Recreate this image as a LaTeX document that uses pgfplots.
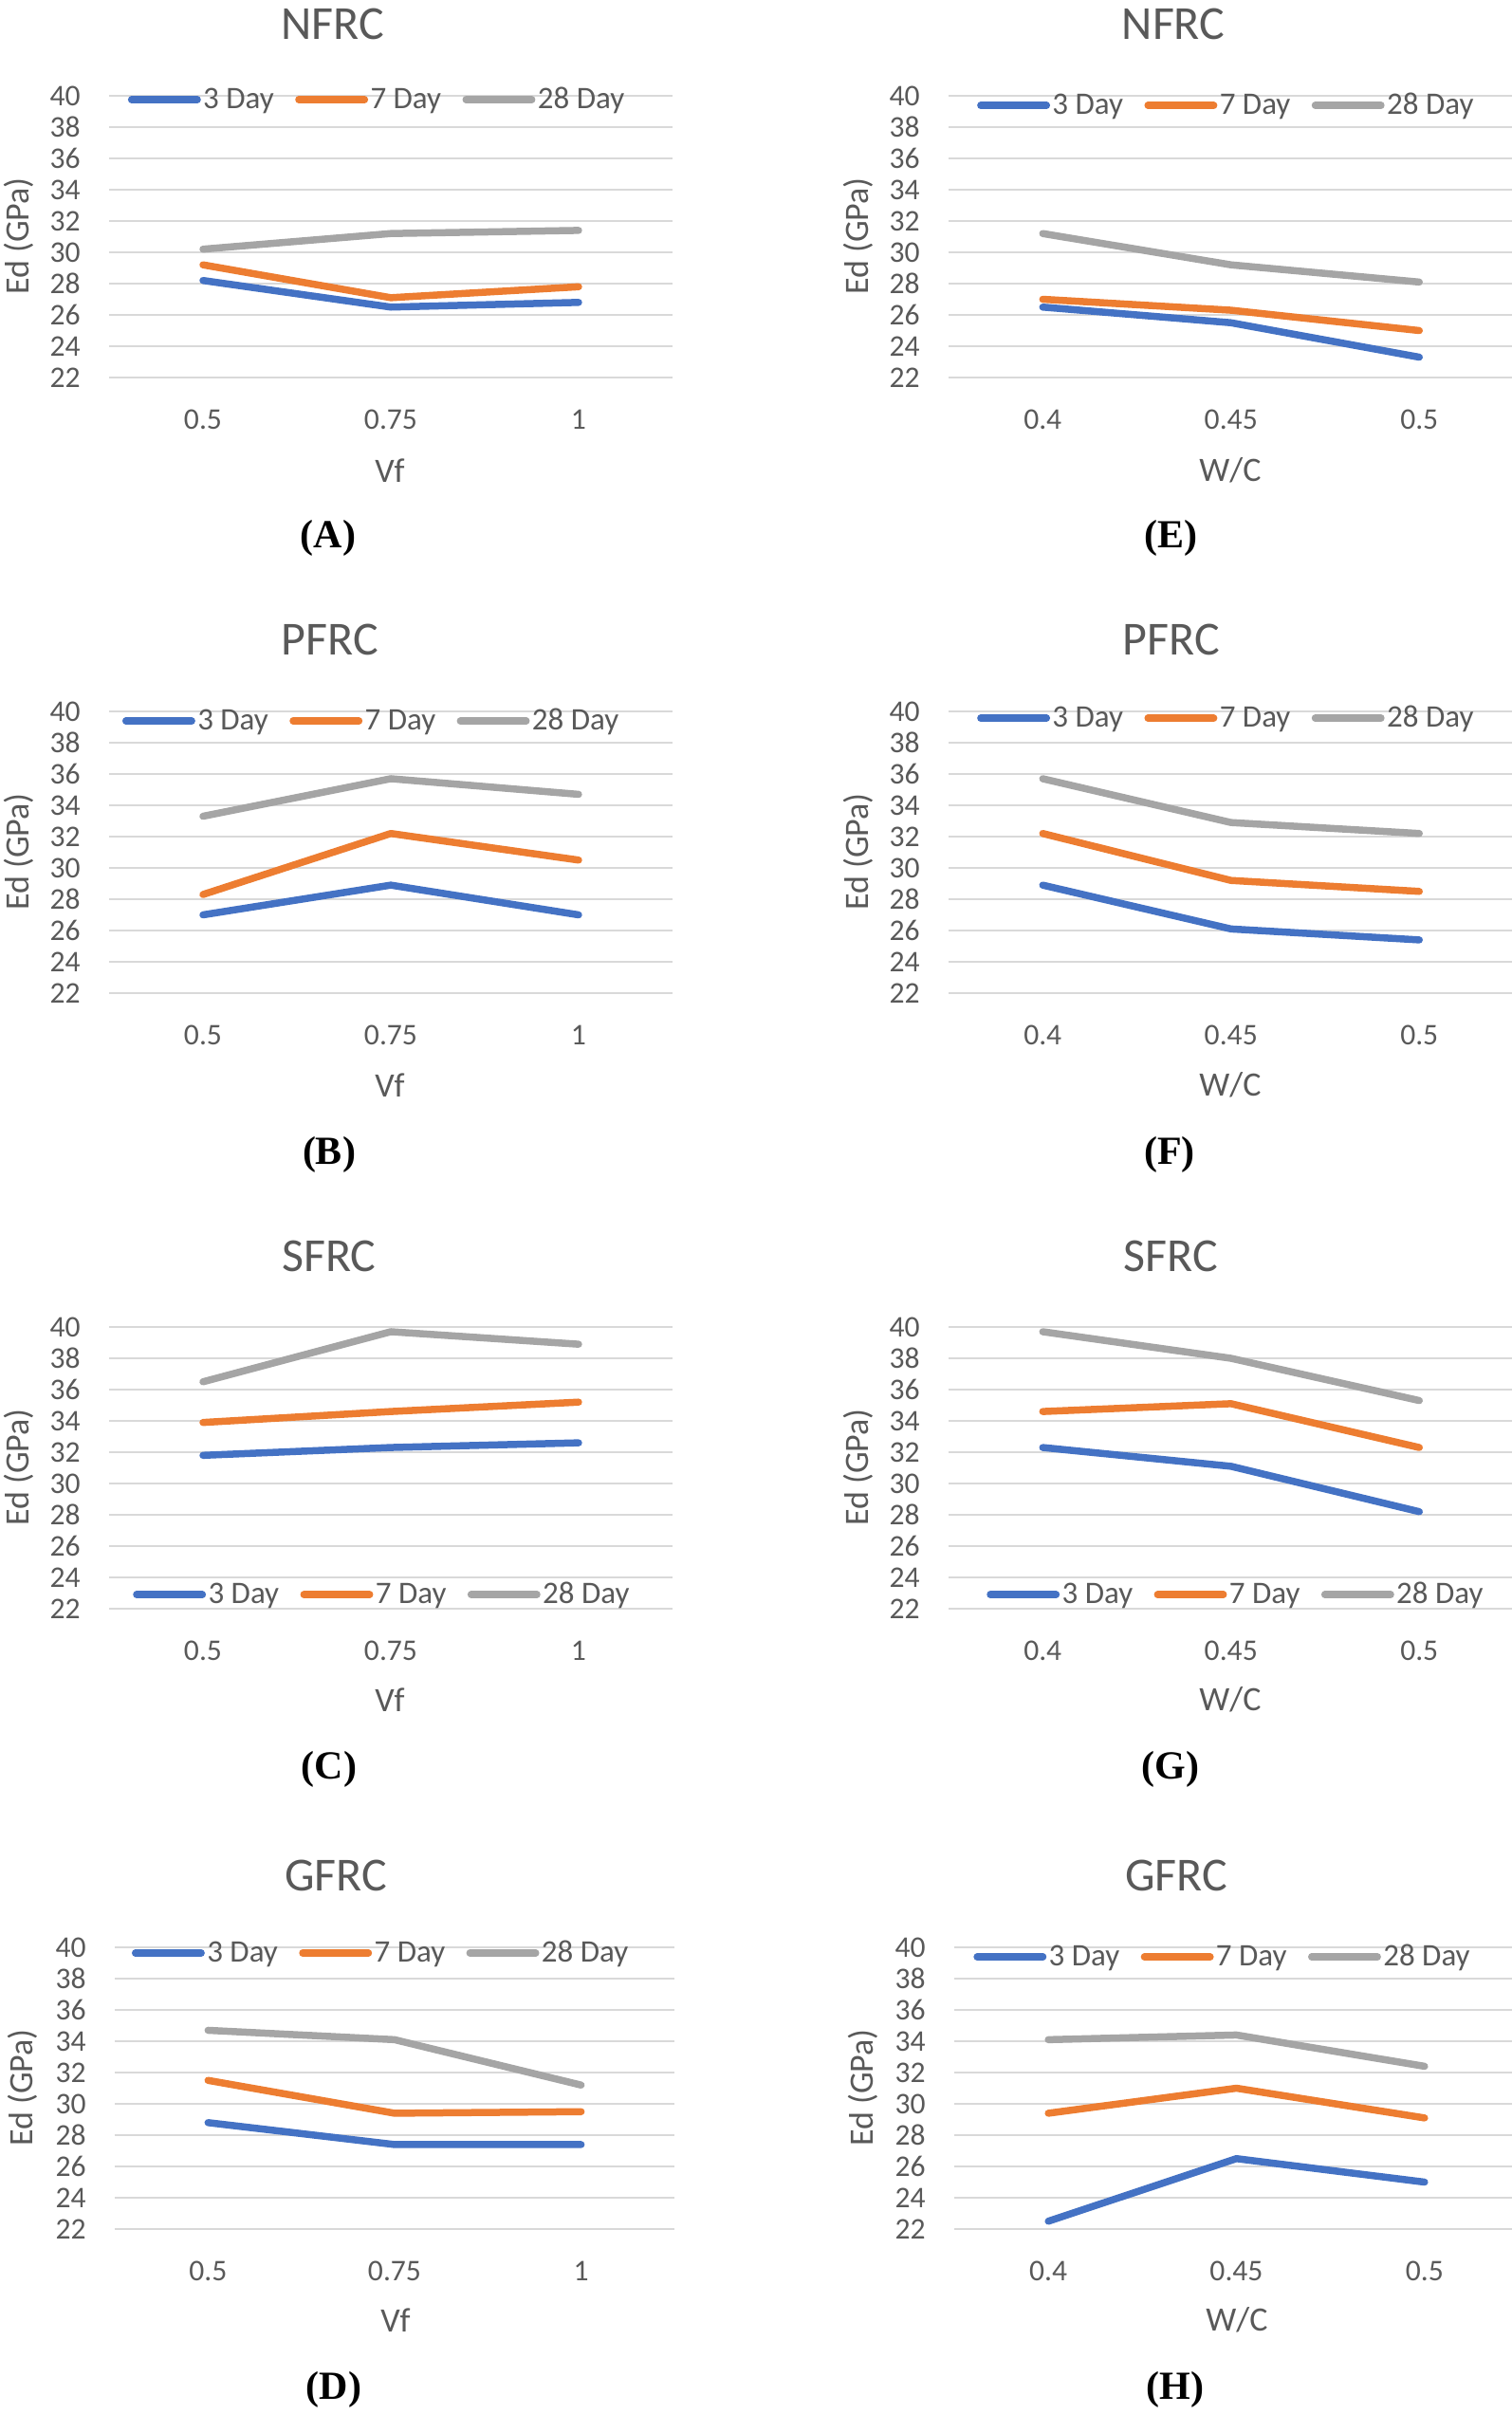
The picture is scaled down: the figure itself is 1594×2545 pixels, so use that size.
\documentclass[border=0pt]{standalone}
\usepackage{fontspec}
\setmainfont{Carlito}
\newfontfamily\timesf{Liberation Serif}
\usepackage{pgfplots}
\pgfplotsset{compat=1.18}
\definecolor{cBlue}{HTML}{4472C4}
\definecolor{cOrange}{HTML}{ED7D31}
\definecolor{cGray}{HTML}{A5A5A5}
\definecolor{cText}{HTML}{595959}
\definecolor{cGrid}{HTML}{D9D9D9}
\newcommand\fTick{\fontsize{15.8}{18}\selectfont}
\newcommand\fLeg{\fontsize{16.5}{19}\selectfont}
\newcommand\fAx{\fontsize{18}{21}\selectfont}
\newcommand\fTitle{\fontsize{25}{29}\selectfont}
\newcommand\fSub{\timesf\bfseries\fontsize{21}{24}\selectfont}
\pgfplotsset{
  panel/.style={
    anchor=north west,
    scale only axis, width=297pt, height=148.5pt,
    xmin=-0.5, xmax=2.5, ymin=22, ymax=40,
    xtick={0,1,2}, ytick={22,24,...,40},
    axis line style={draw=none}, tick style={draw=none}, major tick length=0pt,
    ymajorgrids, grid style={draw=cGrid, line width=1.1pt},
    clip=false,
    tick label style={font=\fTick, text=cText},
    /pgf/number format/assume math mode=true,
    yticklabel style={anchor=east, inner sep=0pt, xshift=-15pt},
    xticklabel style={anchor=center, inner sep=0pt, yshift=-22pt},
    cycle list={{cBlue},{cOrange},{cGray}},
    every axis plot/.append style={line width=3.75pt, line cap=round, line join=round, mark=none},
    legend style={draw=none, fill=none, anchor=center, legend columns=-1,
      font=\fLeg, text=cText, inner sep=0pt,
      nodes={inner sep=1.2pt, text=cText},
      /tikz/every even column/.append style={column sep=10pt}},
    legend image code/.code={\draw[##1, line width=3.75pt, line cap=round] (1.9pt,0pt) -- (36.6pt,0pt);},
  },
  vf/.style={panel, xticklabels={0.5,0.75,1}},
  wc/.style={panel, xticklabels={0.4,0.45,0.5}},
}
\begin{document}
\begin{tikzpicture}[x=0.5pt,y=-0.5pt]
% ---------- (A) NFRC vs Vf
\begin{axis}[vf, at={(57.5pt,-50.5pt)}, legend style={at={(0.476,0.986)}}]
\addplot coordinates {(0,28.2) (1,26.5) (2,26.8)};
\addplot coordinates {(0,29.2) (1,27.1) (2,27.8)};
\addplot coordinates {(0,30.2) (1,31.2) (2,31.4)};
\legend{3 Day,7 Day,28 Day}
\end{axis}
% ---------- (B) PFRC vs Vf
\begin{axis}[vf, at={(57.5pt,-375pt)}, legend style={at={(0.466,0.966)}}]
\addplot coordinates {(0,27.0) (1,28.9) (2,27.0)};
\addplot coordinates {(0,28.3) (1,32.2) (2,30.5)};
\addplot coordinates {(0,33.3) (1,35.7) (2,34.7)};
\legend{3 Day,7 Day,28 Day}
\end{axis}
% ---------- (C) SFRC vs Vf
\begin{axis}[vf, at={(57.5pt,-699.5pt)}, legend style={at={(0.485,0.05)}}]
\addplot coordinates {(0,31.8) (1,32.3) (2,32.6)};
\addplot coordinates {(0,33.9) (1,34.6) (2,35.2)};
\addplot coordinates {(0,36.5) (1,39.7) (2,38.9)};
\legend{3 Day,7 Day,28 Day}
\end{axis}
% ---------- (D) GFRC vs Vf
\begin{axis}[vf, width=295pt, at={(60.5pt,-1026.5pt)}, legend style={at={(0.476,0.98)}}]
\addplot coordinates {(0,28.8) (1,27.4) (2,27.4)};
\addplot coordinates {(0,31.5) (1,29.4) (2,29.5)};
\addplot coordinates {(0,34.7) (1,34.1) (2,31.2)};
\legend{3 Day,7 Day,28 Day}
\end{axis}
% ---------- (E) NFRC vs W/C
\begin{axis}[wc, width=297.75pt, at={(500pt,-50.5pt)}, legend style={at={(0.492,0.966)}}]
\addplot coordinates {(0,26.5) (1,25.5) (2,23.3)};
\addplot coordinates {(0,27.0) (1,26.3) (2,25.0)};
\addplot coordinates {(0,31.2) (1,29.2) (2,28.1)};
\legend{3 Day,7 Day,28 Day}
\end{axis}
% ---------- (F) PFRC vs W/C
\begin{axis}[wc, width=297.75pt, at={(500pt,-375pt)}, legend style={at={(0.492,0.976)}}]
\addplot coordinates {(0,28.9) (1,26.1) (2,25.4)};
\addplot coordinates {(0,32.2) (1,29.2) (2,28.5)};
\addplot coordinates {(0,35.7) (1,32.9) (2,32.2)};
\legend{3 Day,7 Day,28 Day}
\end{axis}
% ---------- (G) SFRC vs W/C
\begin{axis}[wc, width=297.75pt, at={(500pt,-699.5pt)}, legend style={at={(0.509,0.05)}}]
\addplot coordinates {(0,32.3) (1,31.1) (2,28.2)};
\addplot coordinates {(0,34.6) (1,35.1) (2,32.3)};
\addplot coordinates {(0,39.7) (1,38.0) (2,35.3)};
\legend{3 Day,7 Day,28 Day}
\end{axis}
% ---------- (H) GFRC vs W/C
\begin{axis}[wc, width=297.5pt, at={(503pt,-1026.5pt)}, legend style={at={(0.476,0.966)}}]
\addplot coordinates {(0,22.5) (1,26.5) (2,25.0)};
\addplot coordinates {(0,29.4) (1,31.0) (2,29.1)};
\addplot coordinates {(0,34.1) (1,34.4) (2,32.4)};
\legend{3 Day,7 Day,28 Day}
\end{axis}
% ---------- titles
\begin{scope}[every node/.style={text=cText, font=\fTitle, inner sep=0pt}]
\node at (351,25) {NFRC};
\node at (1237,25) {NFRC};
\node at (348,674) {PFRC};
\node at (1235,674) {PFRC};
\node at (347,1324) {SFRC};
\node at (1234,1324) {SFRC};
\node at (354,1977) {GFRC};
\node at (1240,1977) {GFRC};
\end{scope}
% ---------- axis titles
\begin{scope}[every node/.style={text=cText, font=\fAx, inner sep=0pt}]
\node at (411,496) {Vf};
\node at (411,1144) {Vf};
\node at (411,1792) {Vf};
\node at (417,2446) {Vf};
\node at (1297,496) {W/C};
\node at (1297,1144) {W/C};
\node at (1297,1792) {W/C};
\node at (1304,2446) {W/C};
\node[rotate=90] at (20,249) {Ed (GPa)};
\node[rotate=90] at (20,898) {Ed (GPa)};
\node[rotate=90] at (20,1547) {Ed (GPa)};
\node[rotate=90] at (24,2201) {Ed (GPa)};
\node[rotate=90] at (905,249) {Ed (GPa)};
\node[rotate=90] at (905,898) {Ed (GPa)};
\node[rotate=90] at (905,1547) {Ed (GPa)};
\node[rotate=90] at (910,2201) {Ed (GPa)};
\end{scope}
% ---------- sub-figure labels
\begin{scope}[every node/.style={text=black, font=\fSub, inner sep=0pt}]
\node at (346,567) {(A)};
\node at (347,1217) {(B)};
\node at (347,1865) {(C)};
\node at (352,2519) {(D)};
\node at (1234,567) {(E)};
\node at (1233,1217) {(F)};
\node at (1234,1865) {(G)};
\node at (1239,2519) {(H)};
\end{scope}
\pgfresetboundingbox
\useasboundingbox (0,0) rectangle (1594,2545);
\end{tikzpicture}
\end{document}
